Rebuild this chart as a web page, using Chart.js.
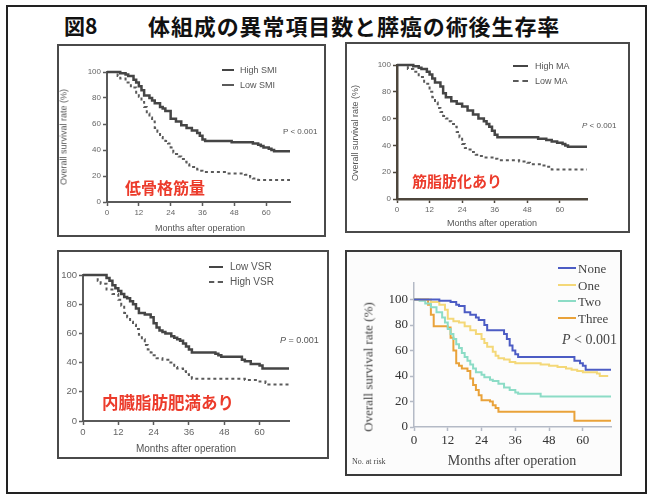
<!DOCTYPE html>
<html>
<head>
<meta charset="utf-8">
<script src="https://cdn.jsdelivr.net/npm/chart.js@4.4.1/dist/chart.umd.min.js"></script>
<style>
  html, body { margin: 0; padding: 0; background: #fff; }
  #page { position: relative; width: 648px; height: 495px; overflow: hidden; }
  .frame { position: absolute; box-sizing: border-box; }
  canvas { position: absolute; }
  .t { position: absolute; white-space: nowrap; line-height: 1; }
</style>
</head>
<body>
<div id="page">
  <div class="frame" style="left:6px;top:5px;width:641px;height:489px;border:2px solid #222;"></div>
  <div class="t" style="left:64px;top:25px;transform:translateY(-50%);font:bold 21px 'Noto Sans CJK JP';color:#111;">図8</div>
  <div class="t" style="left:148px;top:25px;transform:translateY(-50%);font:bold 22px 'Noto Sans CJK JP';letter-spacing:0.9px;color:#111;">体組成の異常項目数と膵癌の術後生存率</div>
  <canvas id="c1"></canvas>
  <canvas id="c2"></canvas>
  <canvas id="c3"></canvas>
  <canvas id="c4"></canvas>
</div>
<script>
// tick values shared by all four panels
const monthTicks = [0, 12, 24, 36, 48, 60];
const rateTicks = [0, 20, 40, 60, 80, 100];

// panel 1 : skeletal muscle index  [month, survival %]
const highSMI = [[0,100],[3,100],[5,99],[7,98],[8,97],[10,94],[11,92],[12,89],[13,86],[14,82],[16,80],[17,78],[18,76],[20,73],[21,72],[22,70],[24,64],[26,62],[28,59],[30,57],[32,55],[34,53],[35,51],[36,48],[37,47],[46,47],[47,46],[54,46],[55,45],[57,44],[58,43],[59,42],[61,41],[62,40],[63,39],[69,39]];
const lowSMI = [[0,100],[4,97],[5,95],[7,92],[9,88],[11,84],[12,81],[13,77],[14,73],[15,68],[16,65],[17,62],[18,57],[19,54],[20,50],[21,48],[22,47],[23,45],[24,42],[25,38],[26,37],[27,35],[28,33],[29,31],[30,29],[31,28],[32,27],[34,25],[35,24],[36,23],[44,23],[45,22],[50,22],[52,21],[53,20],[54,19],[55,18],[57,17],[69,17]];

// panel 2 : muscle attenuation
const highMA = [[0,100],[5,100],[6,99],[8,98],[9,97],[11,95],[12,93],[13,90],[14,87],[16,84],[17,79],[18,76],[20,73],[22,71],[24,69],[26,66],[28,63],[30,60],[32,58],[33,56],[34,54],[35,51],[36,48],[37,46],[50,46],[52,45],[55,44],[57,43],[59,42],[61,41],[62,40],[63,39],[70,39]];
const lowMA = [[0,100],[4,97],[6,95],[8,91],[10,86],[12,80],[13,76],[14,72],[15,68],[16,65],[17,62],[18,60],[19,58],[20,56],[21,54],[22,50],[23,46],[24,41],[25,38],[26,37],[28,35],[29,33],[30,32],[32,31],[36,30],[37,29],[44,29],[45,28],[48,27],[49,26],[53,25],[55,24],[57,22],[70,22]];

// panel 3 : visceral to subcutaneous fat ratio
const lowVSR = [[0,100],[7,100],[8,98],[9,96],[10,93],[11,91],[12,89],[13,87],[14,85],[15,84],[16,82],[17,80],[18,77],[19,74],[21,73],[23,71],[24,67],[25,64],[26,62],[27,61],[28,60],[30,58],[31,57],[32,56],[33,55],[34,53],[35,51],[36,49],[37,47],[44,47],[45,46],[46,45],[47,44],[53,44],[54,42],[55,41],[57,39],[60,38],[61,36],[70,36]];
const highVSR = [[0,100],[5,96],[6,94],[8,90],[10,87],[12,83],[13,79],[14,74],[15,71],[16,68],[17,66],[18,63],[19,59],[20,56],[21,52],[22,49],[23,47],[24,45],[25,43],[27,42],[29,40],[31,37],[32,36],[34,34],[35,32],[36,30],[37,29],[54,29],[55,28],[60,27],[62,26],[63,25],[70,25]];

// panel 4 : number of abnormal items
const noneAbn = [[0,100],[8,100],[9,99],[12,99],[13,98],[15,96],[16,95],[18,90],[20,88],[22,86],[23,84],[25,80],[26,76],[31,76],[32,73],[33,69],[34,64],[35,60],[36,57],[37,55],[56,55],[57,52],[59,50],[60,48],[61,45],[70,45]];
const oneAbn = [[0,100],[5,100],[6,98],[9,96],[11,92],[12,85],[14,83],[16,82],[18,79],[20,76],[22,73],[24,69],[25,66],[26,63],[28,59],[29,56],[30,54],[32,53],[34,51],[36,50],[44,50],[45,49],[48,48],[51,47],[54,46],[56,45],[58,44],[60,43],[65,42],[66,40],[69,40]];
const twoAbn = [[0,100],[2,99],[4,97],[6,94],[8,90],[10,86],[11,82],[12,77],[13,73],[14,69],[15,65],[16,62],[17,58],[18,55],[19,52],[20,49],[21,46],[22,43],[24,41],[25,39],[27,37],[28,36],[30,34],[32,31],[34,29],[36,27],[37,26],[44,26],[45,24],[70,24]];
const threeAbn = [[0,100],[5,96],[6,88],[7,79],[12,78],[13,70],[14,60],[15,50],[16,48],[17,46],[19,44],[20,38],[21,33],[22,29],[23,25],[24,21],[27,20],[28,17],[29,15],[30,12],[56,12],[57,5],[70,5]];

const page = document.getElementById('page');

function txt(str, x, y, css, anchor) {
  const d = document.createElement('div');
  d.className = 't';
  d.textContent = str;
  d.style.cssText += css;
  d.style.left = x + 'px';
  d.style.top = y + 'px';
  const ax = anchor === 'center' ? '-50%' : anchor === 'right' ? '-100%' : '0';
  d.style.transform = 'translate(' + ax + ',-50%)';
  page.appendChild(d);
  return d;
}
function ptxt(rest, x, y, css) {
  // p-value with italic P
  const d = txt('', x, y, css);
  const i = document.createElement('i');
  i.textContent = 'P';
  d.appendChild(i);
  d.appendChild(document.createTextNode(rest));
}
function vtxt(str, x, y, css) {
  const d = txt(str, x, y, css, 'center');
  d.style.transform = 'translate(-50%,-50%) rotate(-90deg)';
}
function box(b, css) {
  const d = document.createElement('div');
  d.className = 'frame';
  d.style.cssText += 'left:' + b.x + 'px;top:' + b.y + 'px;width:' + b.w + 'px;height:' + b.h + 'px;' + css;
  page.insertBefore(d, document.getElementById('c1'));
}
function legend(sets, x1, x2, ys, textX, css) {
  sets.forEach((s, i) => {
    const l = document.createElement('div');
    l.className = 'frame';
    const style = s.borderDash ? 'dashed' : 'solid';
    l.style.cssText += 'left:' + x1 + 'px;top:' + (ys[i] - 1) + 'px;width:' + (x2 - x1) + 'px;height:0;border-top:2px ' + style + ' ' + s.borderColor + ';';
    page.appendChild(l);
    txt(s.label, textX, ys[i], css);
  });
}
const pts = arr => arr.map(p => ({ x: p[0], y: p[1] }));

function km(id, b, area, xMax, yMax, datasets, ax) {
  const cv = document.getElementById(id);
  cv.style.left = b.x + 'px';
  cv.style.top = b.y + 'px';
  cv.width = b.w;
  cv.height = b.h;
  const YW = 24, XH = 20;
  const tickFont = { family: ax.family, size: ax.size };
  return new Chart(cv.getContext('2d'), {
    type: 'line',
    data: { datasets: datasets },
    options: {
      responsive: false,
      animation: false,
      events: [],
      layout: { padding: {
        left: area.l - b.x - YW, right: b.x + b.w - area.r,
        top: area.t - b.y, bottom: b.y + b.h - area.b - XH } },
      plugins: { legend: { display: false }, tooltip: { enabled: false } },
      elements: { point: { radius: 0 }, line: { tension: 0 } },
      scales: {
        x: {
          type: 'linear', min: 0, max: xMax,
          afterFit: s => { s.height = XH; },
          afterBuildTicks: s => { s.ticks = monthTicks.map(v => ({ value: v })); },
          ticks: { font: tickFont, color: ax.tickColor, padding: 2, maxRotation: 0, autoSkip: false },
          grid: { drawOnChartArea: false, tickLength: 4, color: ax.line, tickWidth: ax.tickWidth },
          border: { color: ax.line, width: ax.width }
        },
        y: {
          min: 0, max: yMax,
          afterFit: s => { s.width = YW; },
          afterBuildTicks: s => { s.ticks = rateTicks.map(v => ({ value: v })); },
          ticks: { font: tickFont, color: ax.tickColor, padding: 2, autoSkip: false },
          grid: { drawOnChartArea: false, tickLength: 4, color: ax.line, tickWidth: ax.tickWidth },
          border: { color: ax.line, width: ax.width }
        }
      }
    }
  });
}

const solid = (label, data) => ({ label, data: pts(data), stepped: true, clip: false, borderColor: '#454545', borderWidth: 2.5 });
const dashed = (label, data) => ({ label, data: pts(data), stepped: true, clip: false, borderColor: '#5a5a5a', borderWidth: 2, borderDash: [3, 3] });
const colored = (label, data, c) => ({ label, data: pts(data), stepped: true, clip: false, borderColor: c, borderWidth: 2 });

const gsAxis = { family: "'Liberation Sans', Arial, sans-serif", size: 8, tickColor: '#666', line: '#5a5a5a', width: 2, tickWidth: 1.5 };
const sans = "font-family:'Liberation Sans',Arial,sans-serif;color:#555;";
const serif = "font-family:'Liberation Serif','Times New Roman',serif;color:#444;";
const red = "font-family:'Noto Sans CJK JP';font-weight:bold;color:#ec3b2b;";

// ---- panel 1
const b1 = { x: 57, y: 44, w: 269, h: 193 };
box(b1, 'border:2px solid #4a4a4a;');
const s1 = [solid('High SMI', highSMI), dashed('Low SMI', lowSMI)];
km('c1', b1, { l: 107, r: 290, t: 72, b: 202 }, 69, 100, s1, gsAxis);
vtxt('Overall survival rate (%)', 64, 137, sans + 'font-size:9px;');
txt('Months after operation', 200, 228, sans + 'font-size:9px;', 'center');
legend(s1, 222, 234, [70, 85], 240, sans + 'font-size:9px;');
txt('P < 0.001', 283, 132, sans + 'font-size:8px;');
txt('低骨格筋量', 125, 187, red + 'font-size:16px;');

// ---- panel 2
const b2 = { x: 345, y: 42, w: 285, h: 191 };
box(b2, 'border:2px solid #4a4a4a;');
const s2 = [solid('High MA', highMA), dashed('Low MA', lowMA)];
km('c2', b2, { l: 397, r: 587, t: 65, b: 199 }, 70, 100, s2, Object.assign({}, gsAxis, { line: '#4d463c', width: 2.5 }));
vtxt('Overall survival rate (%)', 355, 133, sans + 'font-size:9px;');
txt('Months after operation', 492, 223, sans + 'font-size:9px;', 'center');
legend(s2, 513, 528, [66, 81], 535, sans + 'font-size:9px;');
ptxt(' < 0.001', 582, 126, sans + 'font-size:8px;');
txt('筋脂肪化あり', 412, 180, red + 'font-size:15px;');

// ---- panel 3
const b3 = { x: 57, y: 250, w: 272, h: 209 };
box(b3, 'border:2px solid #4a4a4a;');
const s3 = [solid('Low VSR', lowVSR), dashed('High VSR', highVSR)];
km('c3', b3, { l: 83, r: 289, t: 275, b: 421 }, 70, 100, s3, Object.assign({}, gsAxis, { size: 9.5 }));
txt('Months after operation', 186, 449, sans + 'font-size:10px;', 'center');
legend(s3, 209, 223, [267, 282], 230, sans + 'font-size:10px;');
ptxt(' = 0.001', 280, 340, sans + 'font-size:9px;');
txt('内臓脂肪肥満あり', 102, 402, red + 'font-size:16.5px;');

// ---- panel 4
const b4 = { x: 345, y: 250, w: 277, h: 226 };
box(b4, 'border:2px solid #3a3a3a;background:#fcfcfc;');
const s4 = [
  colored('None', noneAbn, '#4c5cc4'),
  colored('One', oneAbn, '#f4d878'),
  colored('Two', twoAbn, '#8cdcc6'),
  colored('Three', threeAbn, '#e9a23a')
];
km('c4', b4, { l: 414, r: 611, t: 283, b: 427 }, 70, 113, s4,
  { family: "'Liberation Serif','Times New Roman',serif", size: 13, tickColor: '#333', line: '#b4bac6', width: 1.5, tickWidth: 1.5 });
vtxt('Overall survival rate (%)', 368, 367, serif + 'font-size:13px;');
txt('Months after operation', 512, 461, serif + 'font-size:14px;', 'center');
txt('No. at risk', 352, 462, serif + 'font-size:8px;');
legend(s4, 558, 576, [268, 285, 301, 318], 578, serif + 'font-size:13px;');
ptxt(' < 0.001', 562, 340, serif + 'font-size:14px;');
</script>
</body>
</html>
